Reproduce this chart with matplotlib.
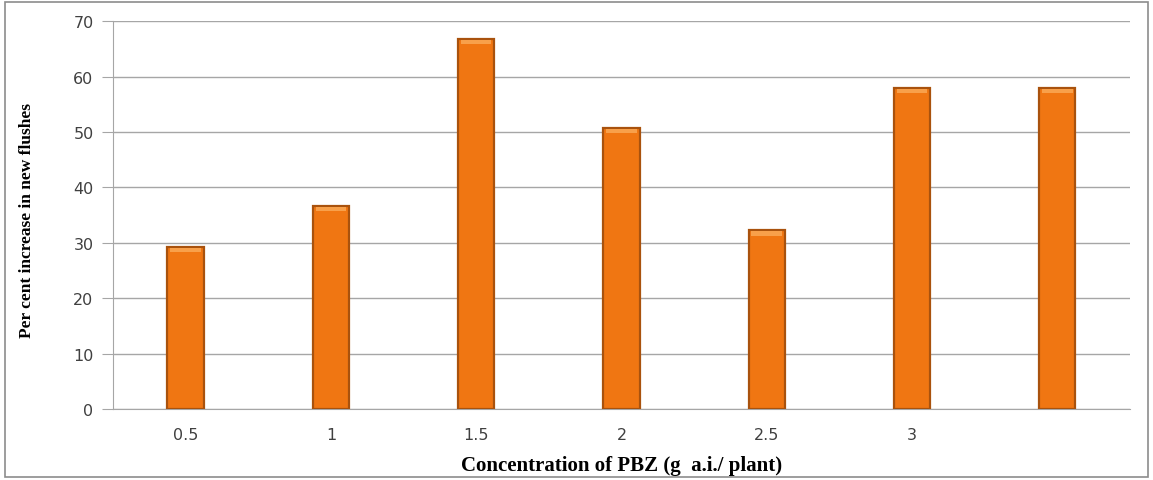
import matplotlib.pyplot as plt
from matplotlib.patches import Rectangle

concs = ["0.5", "1", "1.5", "2", "2.5", "3", ""]
flushes = [29.3, 36.7, 66.8, 50.8, 32.3, 58.0, 58.0]

fig = plt.figure(figsize=(11.53, 4.81), dpi=100)
ax = fig.add_axes([0.098, 0.147, 0.882, 0.807])

xs = range(len(concs))
ax.bar(xs, flushes, width=0.25, color="#F07612", edgecolor="#A9520D",
       linewidth=1.6, zorder=3)
# lighter cap on top of each bar, like the bevelled excel look
ax.bar(xs, [0.8] * len(flushes), bottom=[v - 1.0 for v in flushes], width=0.21,
       color="#F8A04A", linewidth=0, zorder=4)

ax.set_ylim(0, 70)
ax.set_xlim(-0.5, len(concs) - 0.5)
ax.set_yticks(range(0, 71, 10))
ax.set_xticks(list(xs))
ax.set_xticklabels(concs)
ax.grid(axis="y", color="#A6A6A6", linewidth=1, zorder=0)
for s in ["top", "right"]:
    ax.spines[s].set_visible(False)
ax.spines["left"].set_color("#A6A6A6")
ax.spines["bottom"].set_color("#A6A6A6")
ax.tick_params(axis="y", length=8, color="#A6A6A6", labelsize=11.5,
               labelcolor="#404040", pad=6)
ax.tick_params(axis="x", length=0, labelsize=11.5, labelcolor="#404040", pad=13)

ax.set_ylabel("Per cent increase in new flushes", family="Liberation Serif",
              fontweight="bold", fontsize=12.5)
ax.yaxis.set_label_coords(-0.077, 0.49)
ax.set_xlabel("Concentration of PBZ (g  a.i./ plant)", family="Liberation Serif",
              fontweight="bold", fontsize=15)
ax.xaxis.set_label_coords(0.5, -0.117)

fig.patches.append(Rectangle((0.004, 0.006), 0.992, 0.988, transform=fig.transFigure,
                             fill=False, edgecolor="#8C8C8C", linewidth=1.2))

fig.savefig("out.png", dpi=100)
